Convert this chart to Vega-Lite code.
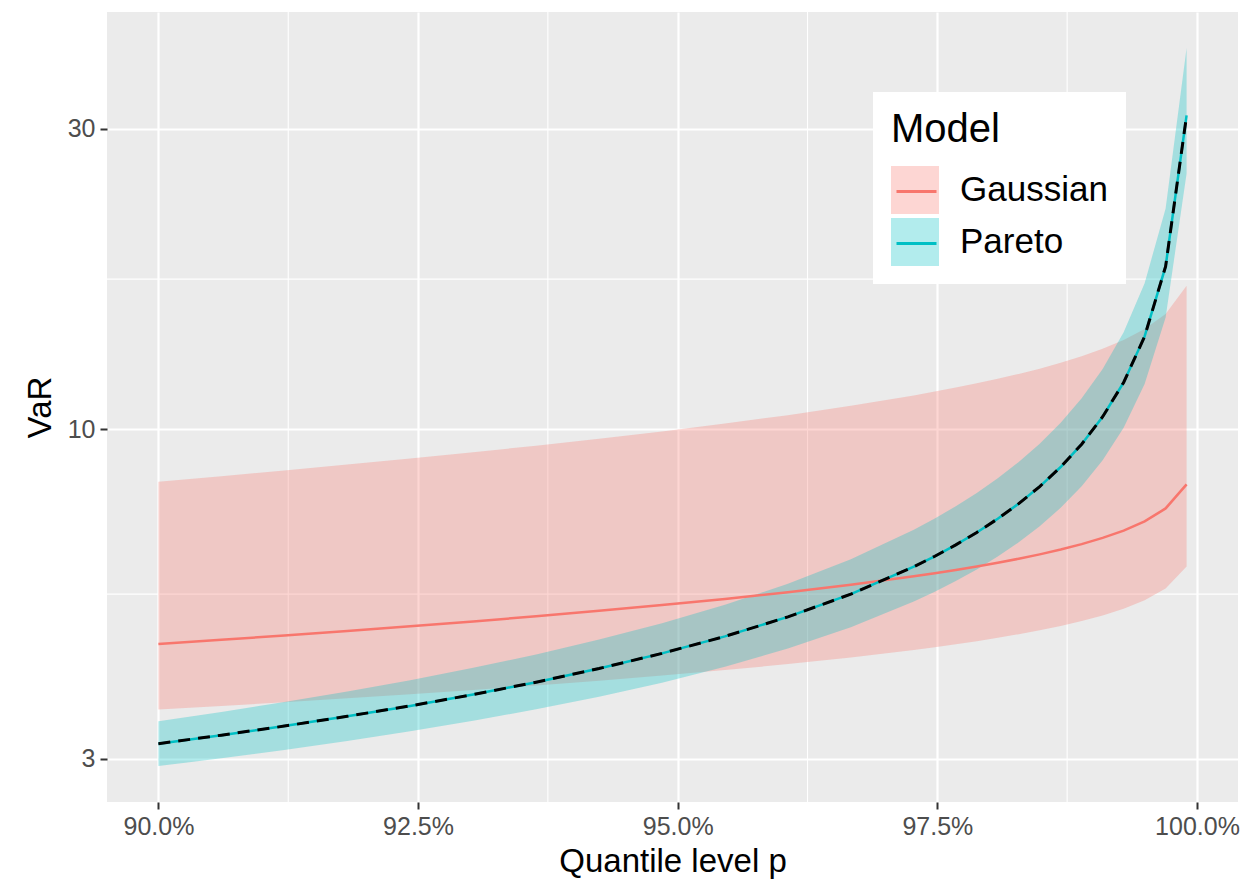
{
  "$schema": "https://vega.github.io/schema/vega-lite/v6.json",
  "width": 1131,
  "height": 790,
  "autosize": {"type": "none"},
  "padding": {"left": 107, "top": 12, "right": 2, "bottom": 77},
  "background": "white",
  "config": {
    "view": {"fill": "#EBEBEB", "stroke": null},
    "font": "Liberation Sans",
    "axis": {
      "domain": false,
      "tickColor": "#333333",
      "tickWidth": 2,
      "tickSize": 7,
      "labelColor": "#4D4D4D",
      "labelFontSize": 25,
      "labelPadding": 5,
      "titleFontSize": 33,
      "titleFontWeight": "normal",
      "titleColor": "black",
      "gridColor": "white",
      "gridWidth": 2.2
    }
  },
  "datasets": {
    "gridx": [{"p": 0.9125}, {"p": 0.9375}, {"p": 0.9625}, {"p": 0.9875}],
    "gridy": [{"value": 5.477}, {"value": 17.32}],
    "vals": [
      {"p": 0.900000, "model": "Gaussian", "value": 4.563, "lower": 3.590, "upper": 8.260},
      {"p": 0.906061, "model": "Gaussian", "value": 4.634, "lower": 3.638, "upper": 8.429},
      {"p": 0.912122, "model": "Gaussian", "value": 4.708, "lower": 3.688, "upper": 8.606},
      {"p": 0.918184, "model": "Gaussian", "value": 4.786, "lower": 3.742, "upper": 8.793},
      {"p": 0.924245, "model": "Gaussian", "value": 4.868, "lower": 3.798, "upper": 8.990},
      {"p": 0.930306, "model": "Gaussian", "value": 4.956, "lower": 3.858, "upper": 9.199},
      {"p": 0.936367, "model": "Gaussian", "value": 5.050, "lower": 3.922, "upper": 9.423},
      {"p": 0.942429, "model": "Gaussian", "value": 5.151, "lower": 3.991, "upper": 9.665},
      {"p": 0.948490, "model": "Gaussian", "value": 5.261, "lower": 4.066, "upper": 9.927},
      {"p": 0.954551, "model": "Gaussian", "value": 5.381, "lower": 4.148, "upper": 10.215},
      {"p": 0.960612, "model": "Gaussian", "value": 5.516, "lower": 4.240, "upper": 10.536},
      {"p": 0.966673, "model": "Gaussian", "value": 5.668, "lower": 4.344, "upper": 10.900},
      {"p": 0.972735, "model": "Gaussian", "value": 5.845, "lower": 4.465, "upper": 11.324},
      {"p": 0.974755, "model": "Gaussian", "value": 5.912, "lower": 4.511, "upper": 11.482},
      {"p": 0.976776, "model": "Gaussian", "value": 5.983, "lower": 4.559, "upper": 11.651},
      {"p": 0.978796, "model": "Gaussian", "value": 6.059, "lower": 4.611, "upper": 11.834},
      {"p": 0.980816, "model": "Gaussian", "value": 6.142, "lower": 4.668, "upper": 12.032},
      {"p": 0.982837, "model": "Gaussian", "value": 6.232, "lower": 4.730, "upper": 12.248},
      {"p": 0.984857, "model": "Gaussian", "value": 6.333, "lower": 4.798, "upper": 12.488},
      {"p": 0.986878, "model": "Gaussian", "value": 6.445, "lower": 4.875, "upper": 12.757},
      {"p": 0.988898, "model": "Gaussian", "value": 6.574, "lower": 4.963, "upper": 13.064},
      {"p": 0.990918, "model": "Gaussian", "value": 6.725, "lower": 5.066, "upper": 13.424},
      {"p": 0.992939, "model": "Gaussian", "value": 6.908, "lower": 5.191, "upper": 13.863},
      {"p": 0.994959, "model": "Gaussian", "value": 7.146, "lower": 5.354, "upper": 14.431},
      {"p": 0.996980, "model": "Gaussian", "value": 7.491, "lower": 5.589, "upper": 15.256},
      {"p": 0.999000, "model": "Gaussian", "value": 8.180, "lower": 6.060, "upper": 16.902},
      {"p": 0.900000, "model": "Pareto", "value": 3.170, "lower": 2.920, "upper": 3.440},
      {"p": 0.906061, "model": "Pareto", "value": 3.270, "lower": 3.005, "upper": 3.559},
      {"p": 0.912122, "model": "Pareto", "value": 3.380, "lower": 3.098, "upper": 3.690},
      {"p": 0.918184, "model": "Pareto", "value": 3.503, "lower": 3.201, "upper": 3.835},
      {"p": 0.924245, "model": "Pareto", "value": 3.639, "lower": 3.316, "upper": 3.998},
      {"p": 0.930306, "model": "Pareto", "value": 3.793, "lower": 3.446, "upper": 4.182},
      {"p": 0.936367, "model": "Pareto", "value": 3.969, "lower": 3.594, "upper": 4.393},
      {"p": 0.942429, "model": "Pareto", "value": 4.172, "lower": 3.764, "upper": 4.637},
      {"p": 0.948490, "model": "Pareto", "value": 4.409, "lower": 3.962, "upper": 4.923},
      {"p": 0.954551, "model": "Pareto", "value": 4.692, "lower": 4.199, "upper": 5.266},
      {"p": 0.960612, "model": "Pareto", "value": 5.039, "lower": 4.488, "upper": 5.688},
      {"p": 0.966673, "model": "Pareto", "value": 5.476, "lower": 4.851, "upper": 6.222},
      {"p": 0.972735, "model": "Pareto", "value": 6.053, "lower": 5.328, "upper": 6.929},
      {"p": 0.974755, "model": "Pareto", "value": 6.289, "lower": 5.523, "upper": 7.221},
      {"p": 0.976776, "model": "Pareto", "value": 6.556, "lower": 5.743, "upper": 7.551},
      {"p": 0.978796, "model": "Pareto", "value": 6.861, "lower": 5.993, "upper": 7.929},
      {"p": 0.980816, "model": "Pareto", "value": 7.212, "lower": 6.281, "upper": 8.365},
      {"p": 0.982837, "model": "Pareto", "value": 7.624, "lower": 6.618, "upper": 8.878},
      {"p": 0.984857, "model": "Pareto", "value": 8.115, "lower": 7.019, "upper": 9.493},
      {"p": 0.986878, "model": "Pareto", "value": 8.716, "lower": 7.509, "upper": 10.248},
      {"p": 0.988898, "model": "Pareto", "value": 9.474, "lower": 8.125, "upper": 11.205},
      {"p": 0.990918, "model": "Pareto", "value": 10.473, "lower": 8.933, "upper": 12.472},
      {"p": 0.992939, "model": "Pareto", "value": 11.874, "lower": 10.062, "upper": 14.263},
      {"p": 0.994959, "model": "Pareto", "value": 14.050, "lower": 11.804, "upper": 17.067},
      {"p": 0.996980, "model": "Pareto", "value": 18.146, "lower": 15.055, "upper": 22.417},
      {"p": 0.999000, "model": "Pareto", "value": 31.52, "lower": 25.49, "upper": 40.34}
    ]
  },
  "layer": [
    {
      "data": {"name": "gridx"},
      "mark": {"type": "rule", "color": "white", "strokeWidth": 1.1},
      "encoding": {
        "x": {
          "field": "p", "type": "quantitative",
          "scale": {"domain": [0.89505, 1.00395], "nice": false, "zero": false},
          "axis": {"values": [0.9, 0.925, 0.95, 0.975, 1.0], "format": ".1%", "title": "Quantile level p", "titlePadding": 6}
        }
      }
    },
    {
      "data": {"name": "gridy"},
      "mark": {"type": "rule", "color": "white", "strokeWidth": 1.1},
      "encoding": {
        "y": {
          "field": "value", "type": "quantitative",
          "scale": {"type": "log", "domain": [2.561, 46.0], "nice": false},
          "axis": {"values": [3, 10, 30], "format": "d", "title": "VaR", "titlePadding": 10}
        }
      }
    },
    {
      "data": {"name": "vals"},
      "mark": {"type": "area", "fillOpacity": 0.3},
      "encoding": {
        "x": {"field": "p", "type": "quantitative"},
        "y": {"field": "lower", "type": "quantitative"},
        "y2": {"field": "upper"},
        "fill": {
          "field": "model", "type": "nominal",
          "scale": {"domain": ["Gaussian", "Pareto"], "range": ["#F8766D", "#00BFC4"]},
          "legend": {
            "title": "Model", "orient": "none", "legendX": 766, "legendY": 80,
            "fillColor": "white", "padding": 18,
            "titleFontSize": 40, "titleFontWeight": "normal", "titleColor": "black", "titlePadding": 16,
            "labelFontSize": 35, "labelColor": "black", "labelOffset": 21,
            "symbolType": "square", "symbolSize": 2304, "symbolOpacity": 0.3, "symbolStrokeWidth": 0,
            "rowPadding": 4
          }
        }
      }
    },
    {
      "data": {"name": "vals"},
      "mark": {"type": "line", "strokeWidth": 2.5},
      "encoding": {
        "x": {"field": "p", "type": "quantitative"},
        "y": {"field": "value", "type": "quantitative"},
        "stroke": {
          "field": "model", "type": "nominal",
          "scale": {"range": ["#F8766D", "#00BFC4"]},
          "legend": {
            "title": null, "orient": "none", "legendX": 770, "legendY": 140,
            "padding": 18,
            "labelFontSize": 35, "labelExpr": "''", "labelOffset": 0,
            "symbolType": "stroke", "symbolSize": 1600, "symbolStrokeWidth": 3,
            "rowPadding": 12
          }
        }
      }
    },
    {
      "data": {"name": "vals"},
      "transform": [{"filter": "datum.model == 'Pareto'"}],
      "mark": {"type": "line", "color": "black", "strokeWidth": 3, "strokeDash": [12, 8]},
      "encoding": {
        "x": {"field": "p", "type": "quantitative"},
        "y": {"field": "value", "type": "quantitative"}
      }
    }
  ]
}
